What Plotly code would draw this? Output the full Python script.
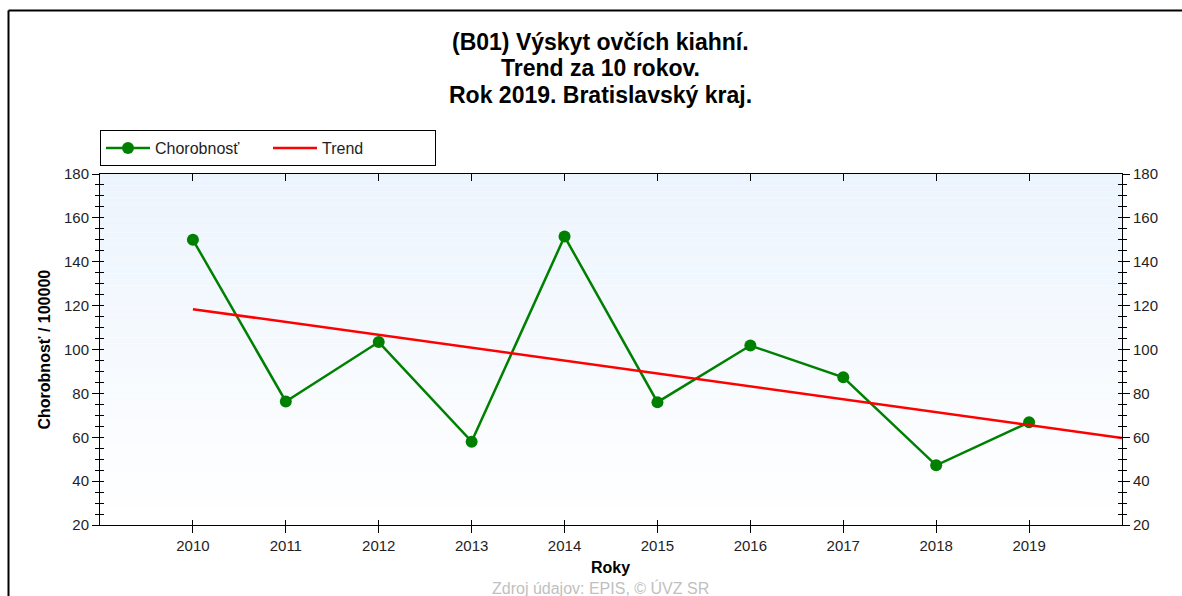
import plotly.graph_objects as go

# ---- data ----
years = [2010, 2011, 2012, 2013, 2014, 2015, 2016, 2017, 2018, 2019]
year_labels = [str(y) for y in years]
chorobnost = [150.0, 76.3, 103.4, 58.0, 151.5, 76.0, 101.8, 87.3, 47.2, 66.8]
trend_years = [2010, 2020]
trend_values = [118.4, 59.7]
y_ticks = [20, 40, 60, 80, 100, 120, 140, 160, 180]

title_lines = ["(B01) Výskyt ovčích kiahní.", "Trend za 10 rokov.", "Rok 2019. Bratislavský kraj."]
series_names = ["Chorobnosť", "Trend"]
y_title = "Chorobnosť / 100000"
x_title = "Roky"
source_text = "Zdroj údajov: EPIS, © ÚVZ SR"

FONT = "Liberation Sans, Arial, sans-serif"
TXT = "#1e1e24"

# plot area in pixels (figure is 1182 x 596)
L, R, T, B = 100, 1122, 174, 525
PW, PH = R - L, B - T


def px_x(x):
    return (x - L) / PW


def px_y(y):
    return (B - y) / PH


fig = go.Figure()

fig.add_trace(go.Scatter(
    x=years, y=chorobnost, name=series_names[0], mode="lines+markers",
    line=dict(color="#008000", width=2.5),
    marker=dict(color="#008000", size=12, symbol="circle"),
))
fig.add_trace(go.Scatter(
    x=trend_years, y=trend_values, name=series_names[1], mode="lines",
    line=dict(color="#ff0000", width=2.5),
))
# helper traces so the overlay axes (crossing ticks / mirrored axis) get drawn
for xa, ya in [("x", "y2"), ("x2", "y3"), ("x3", "y4")]:
    fig.add_trace(go.Scatter(x=[None], y=[None], xaxis=xa, yaxis=ya,
                             showlegend=False, hoverinfo="skip"))

# gradient background of the plot area
n_bands = 60
top_rgb = (236, 244, 253)
for i in range(n_bands):
    t = i / (n_bands - 1)
    r = round(top_rgb[0] + (255 - top_rgb[0]) * t)
    g = round(top_rgb[1] + (255 - top_rgb[1]) * t)
    b = round(top_rgb[2] + (255 - top_rgb[2]) * t)
    fig.add_shape(type="rect", xref="x domain", yref="y domain",
                  x0=0, x1=1, y1=1 - i / n_bands, y0=1 - (i + 1) / n_bands,
                  fillcolor=f"rgb({r},{g},{b})", line=dict(width=0), layer="below")

# outer frame (left and top edges)
fig.add_shape(type="line", xref="paper", yref="paper", x0=px_x(8.5), x1=px_x(8.5),
              y0=px_y(620), y1=px_y(10.5), line=dict(color="black", width=2))
fig.add_shape(type="line", xref="paper", yref="paper", x0=px_x(8.5), x1=px_x(1200),
              y0=px_y(10.5), y1=px_y(10.5), line=dict(color="black", width=2))

xr = [2009, 2020]
yr = [20, 180]
tickfont = dict(family=FONT, size=15, color=TXT)
minor_out = dict(ticks="outside", ticklen=4, dtick=5, tick0=0, tickcolor="black", showgrid=False)
minor_in = dict(ticks="inside", ticklen=4, dtick=5, tick0=0, tickcolor="black", showgrid=False)

fig.update_layout(
    width=1182, height=596,
    margin=dict(l=L, r=1182 - R, t=T, b=596 - B),
    paper_bgcolor="white", plot_bgcolor="white",
    font=dict(family=FONT, size=15, color=TXT),
    showlegend=True,
    legend=dict(
        orientation="h", x=0, xanchor="left", y=px_y(166), yanchor="bottom",
        bordercolor="black", borderwidth=1, bgcolor="white",
        font=dict(family=FONT, size=16, color=TXT),
        entrywidth=108, entrywidthmode="pixels", itemwidth=44,
        tracegroupgap=0,
    ),
    xaxis=dict(range=xr, tickmode="array", tickvals=years, ticktext=year_labels,
               ticks="outside", ticklen=7, tickcolor="black", tickwidth=1,
               showline=True, linecolor="black", linewidth=1,
               showgrid=False, zeroline=False, tickfont=tickfont),
    xaxis2=dict(range=xr, overlaying="x", anchor="y", side="bottom",
                tickmode="array", tickvals=years, ticks="inside", ticklen=5,
                tickcolor="black", showticklabels=False, showline=False,
                showgrid=False, zeroline=False),
    xaxis3=dict(range=xr, overlaying="x", anchor="y", side="top",
                tickmode="array", tickvals=years, ticks="inside", ticklen=7,
                tickcolor="black", showticklabels=False, showline=True,
                linecolor="black", linewidth=1, showgrid=False, zeroline=False),
    yaxis=dict(range=yr, tickmode="array", tickvals=y_ticks,
               ticks="outside", ticklen=7, tickcolor="black",
               minor=minor_out, showline=True, linecolor="black", linewidth=1,
               showgrid=False, zeroline=False, tickfont=tickfont),
    yaxis2=dict(range=yr, overlaying="y", anchor="x", side="right",
                tickmode="array", tickvals=y_ticks,
                ticks="outside", ticklen=7, tickcolor="black",
                minor=minor_out, showline=True, linecolor="black", linewidth=1,
                showgrid=False, zeroline=False, tickfont=tickfont),
    yaxis3=dict(range=yr, overlaying="y", anchor="x", side="left",
                tickmode="array", tickvals=y_ticks, ticks="inside", ticklen=4,
                tickcolor="black", minor=minor_in, showticklabels=False,
                showline=False, showgrid=False, zeroline=False),
    yaxis4=dict(range=yr, overlaying="y", anchor="x", side="right",
                tickmode="array", tickvals=y_ticks, ticks="inside", ticklen=4,
                tickcolor="black", minor=minor_in, showticklabels=False,
                showline=False, showgrid=False, zeroline=False),
)

# title lines
for line, yc in zip(title_lines, [42, 68, 95]):
    fig.add_annotation(text="<b>" + line + "</b>", xref="paper", yref="paper",
                       x=px_x(600), y=px_y(yc), showarrow=False,
                       xanchor="center", yanchor="middle",
                       font=dict(family=FONT, size=23, color="black"))

fig.add_annotation(text="<b>" + y_title + "</b>", xref="paper", yref="paper",
                   x=px_x(44), y=0.5, textangle=-90, showarrow=False,
                   xanchor="center", yanchor="middle",
                   font=dict(family=FONT, size=16, color="black"))
fig.add_annotation(text="<b>" + x_title + "</b>", xref="paper", yref="paper",
                   x=px_x(610), y=px_y(567), showarrow=False,
                   xanchor="center", yanchor="middle",
                   font=dict(family=FONT, size=16, color="black"))
fig.add_annotation(text=source_text, xref="paper", yref="paper",
                   x=px_x(600), y=px_y(588), showarrow=False,
                   xanchor="center", yanchor="middle",
                   font=dict(family=FONT, size=16, color="#c0c0c0"))

fig.write_html("out.html", config={"displayModeBar": False},
               post_script="document.body.style.margin='0';")
